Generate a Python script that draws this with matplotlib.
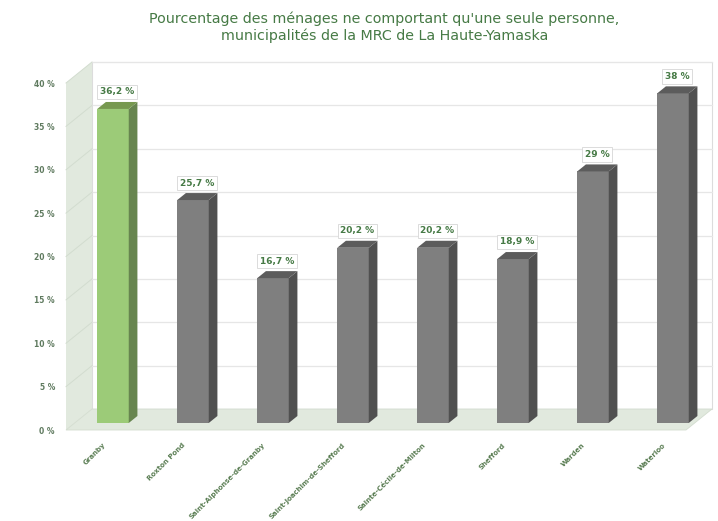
import matplotlib.pyplot as plt
from matplotlib.patches import Polygon
import numpy as np

# municipalités de la MRC de La Haute-Yamaska
municipalites = ['Granby', 'Roxton Pond', 'Saint-Alphonse-de-Granby',
                 'Saint-Joachim-de-Shefford', 'Sainte-Cécile-de-Milton',
                 'Shefford', 'Warden', 'Waterloo']
pourcentages = [36.2, 25.7, 16.7, 20.2, 20.2, 18.9, 29.0, 38.0]
etiquettes = ['36,2 %', '25,7 %', '16,7 %', '20,2 %', '20,2 %', '18,9 %', '29 %', '38 %']
yticks = [0, 5, 10, 15, 20, 25, 30, 35, 40]

titre = ("Pourcentage des ménages ne comportant qu'une seule personne,\n"
         "municipalités de la MRC de La Haute-Yamaska")

vert_txt = '#467a45'
mur = '#e1e9de'
grille = '#e6e6e6'

plt.rcParams['font.family'] = ['DejaVu Sans']

fig = plt.figure(figsize=(7.18, 5.21), dpi=100)
ax = fig.add_axes([66 / 718, 91 / 521, 620 / 718, 347 / 521])
ax.set_xlim(-0.479, 7.271)
ax.set_ylim(0, 40)
x0, x1 = ax.get_xlim()
ymax = 40

# profondeur de la scène 3D (unités de données)
DX, DY = 0.325, 2.42
w = 0.394

# mur du fond + grille
ax.add_patch(Polygon([(x0 + DX, DY), (x1 + DX, DY), (x1 + DX, ymax + DY), (x0 + DX, ymax + DY)],
                     closed=True, fc='white', ec='#dcdcdc', lw=0.8, clip_on=False, zorder=0))
# mur de gauche
ax.add_patch(Polygon([(x0, 0), (x0 + DX, DY), (x0 + DX, ymax + DY), (x0, ymax)],
                     closed=True, fc=mur, ec='none', clip_on=False, zorder=1))
# plancher
ax.add_patch(Polygon([(x0, 0), (x1, 0), (x1 + DX, DY), (x0 + DX, DY)],
                     closed=True, fc=mur, ec='#d3dccf', lw=0.6, clip_on=False, zorder=1))
for t in yticks[1:]:
    ax.plot([x0 + DX, x1 + DX], [t + DY, t + DY], color=grille, lw=0.9, clip_on=False, zorder=0.5)
    ax.plot([x0, x0 + DX], [t, t + DY], color='#d2dccf', lw=0.7, clip_on=False, zorder=1.5)

x = np.arange(len(municipalites))
face = ['#9ccb78'] + ['#7f7f7f'] * (len(x) - 1)
cote = ['#67854f'] + ['#505050'] * (len(x) - 1)
dessus = ['#76984f'] + ['#5c5c5c'] * (len(x) - 1)

# colonnes : face avant, côté, dessus
ax.bar(x + DX / 3, pourcentages, width=w, bottom=DY / 3, color=face,
       clip_on=False, zorder=3)
for xi, v, c_cote, c_dessus in zip(x, pourcentages, cote, dessus):
    xr = xi + w / 2
    xl = xi - w / 2
    ax.add_patch(Polygon([(xr + DX / 3, DY / 3), (xr + 2 * DX / 3, 2 * DY / 3),
                          (xr + 2 * DX / 3, v + 2 * DY / 3), (xr + DX / 3, v + DY / 3)],
                         closed=True, fc=c_cote, ec='none', clip_on=False, zorder=3))
    ax.add_patch(Polygon([(xl + DX / 3, v + DY / 3), (xr + DX / 3, v + DY / 3),
                          (xr + 2 * DX / 3, v + 2 * DY / 3), (xl + 2 * DX / 3, v + 2 * DY / 3)],
                         closed=True, fc=c_dessus, ec='none', clip_on=False, zorder=3))

for xi, v, lab in zip(x, pourcentages, etiquettes):
    ax.annotate(lab, (xi + DX / 2, v + 2 * DY / 3), xytext=(0, 4), textcoords='offset points',
                ha='center', va='bottom', fontsize=6.5, fontweight='bold', color=vert_txt,
                bbox=dict(boxstyle='square,pad=0.3', fc='white', ec='#d6d6d6', lw=0.6),
                zorder=5)

ax.set_yticks(yticks)
ax.set_yticklabels([f'{t} %' for t in yticks], fontsize=5.5, fontweight='bold', color='#5f7a5f')
ax.set_xticks(x)
ax.set_xticklabels(municipalites, rotation=45, ha='right', va='center',
                   rotation_mode='anchor', fontsize=5, fontweight='bold', color='#5a7d53')
ax.tick_params(axis='y', length=0, pad=8)
ax.tick_params(axis='x', length=0, pad=10)
for s in ax.spines.values():
    s.set_visible(False)
ax.patch.set_visible(False)

fig.text(0.535, 0.978, titre, ha='center', va='top', fontsize=10.3,
         color=vert_txt, linespacing=1.2)

fig.savefig('out.png', dpi=100)
